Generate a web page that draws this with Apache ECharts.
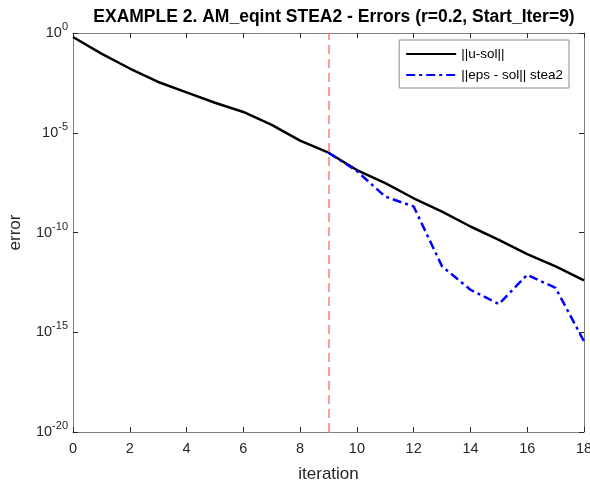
<!DOCTYPE html>
<html>
<head>
<meta charset="utf-8">
<script src="https://cdn.jsdelivr.net/npm/echarts@6/dist/echarts.min.js"></script>
<style>html,body{margin:0;padding:0;background:#fff;}#c{width:590px;height:485px;}</style>
</head>
<body>
<div id="c"></div>
<script>
var iterations = [0,1,2,3,4,5,6,7,8,9,10,11,12,13,14,15,16,17,18];
var uSol = [0.63,0.093,0.0166,3.5e-3,1.05e-3,3.2e-4,1.1e-4,2.5e-5,4.0e-6,1.0e-6,1.35e-7,2.95e-8,5.2e-9,1.1e-9,2.0e-10,4.3e-11,8.3e-12,2.0e-12,4.0e-13];
var steaIter = [9,10,11,12,13,14,15,16,17,18];
var epsSol = [1.0e-6,1.2e-7,6.3e-9,2.0e-9,2.0e-12,1.35e-13,2.6e-14,7.6e-13,1.66e-13,3.5e-16];
var startIter = 9;
var titleText = 'EXAMPLE 2. AM_eqint STEA2 - Errors (r=0.2, Start_Iter=9)';
var seriesNames = ['||u-sol||', '||eps - sol|| stea2'];

var font = 'Liberation Sans, Arial, Helvetica, sans-serif';
var axisCol = '#262626';
var chart = echarts.init(document.getElementById('c'));
function supFmt(v){
  var e = Math.round(Math.log10(v));
  return '10{sup|' + e + '}';
}
var supRich = {sup:{fontSize:11, verticalAlign:'top', padding:[0,0,12,0], color:axisCol, fontFamily:font}};
chart.setOption({
  animation:false,
  backgroundColor:'#fff',
  title:{text:titleText, left:329, textAlign:'center', top:3,
    textStyle:{fontSize:17.5, fontWeight:'bold', color:'#000', fontFamily:font}},
  grid:{left:73, right:6, top:33, bottom:53, containLabel:false, outerBoundsMode:'none'},
  legend:{
    data:seriesNames, orient:'vertical', right:21, top:40,
    itemWidth:50, itemHeight:10, itemGap:7,
    padding:[7,6,6,6],
    itemStyle:{opacity:0},
    borderColor:'#8c8c8c', borderWidth:1, backgroundColor:'#fff',
    textStyle:{fontSize:13.5, color:'#000', fontFamily:font}
  },
  xAxis:[{
    type:'value', min:0, max:18, interval:2, position:'bottom',
    name:'iteration', nameLocation:'middle', nameGap:34,
    nameTextStyle:{fontSize:17, color:axisCol, fontFamily:font},
    axisLine:{onZero:false, lineStyle:{color:'#808080', width:1}},
    axisTick:{inside:true, length:5, lineStyle:{color:axisCol}},
    axisLabel:{fontSize:14.5, color:axisCol, fontFamily:font, margin:9},
    splitLine:{show:false}
  },{
    type:'value', min:0, max:18, interval:2, position:'top',
    axisLine:{onZero:false, lineStyle:{color:'#808080', width:1}},
    axisTick:{inside:true, length:5, lineStyle:{color:axisCol}},
    axisLabel:{show:false}, splitLine:{show:false}
  }],
  yAxis:[{
    type:'log', logBase:10, min:1e-20, max:1, interval:5, position:'left',
    name:'error', nameLocation:'middle', nameGap:49, nameRotate:90,
    nameTextStyle:{fontSize:17, color:axisCol, fontFamily:font},
    axisLine:{show:true, onZero:false, lineStyle:{color:'#808080', width:1}},
    axisTick:{show:true, inside:true, length:5, lineStyle:{color:axisCol}},
    minorTick:{show:false},
    axisLabel:{fontSize:14.5, color:axisCol, fontFamily:font, formatter:supFmt, rich:supRich, margin:5},
    splitLine:{show:false}
  },{
    type:'log', logBase:10, min:1e-20, max:1, interval:5, position:'right',
    axisLine:{show:true, onZero:false, lineStyle:{color:'#808080', width:1}},
    axisTick:{show:true, inside:true, length:5, lineStyle:{color:axisCol}},
    axisLabel:{show:false}, splitLine:{show:false}
  }],
  series:[{
    name:seriesNames[0], type:'line', xAxisIndex:0, yAxisIndex:0,
    data:iterations.map(function(x,i){return [x,uSol[i]];}),
    showSymbol:false, symbol:'none',
    lineStyle:{color:'#000', width:2.5},
    itemStyle:{color:'#000'},
    markLine:{
      silent:true, symbol:'none', label:{show:false},
      lineStyle:{color:'#ff7a7a', width:1.5, type:[9,5]},
      data:[{xAxis:startIter}]
    },
    z:2
  },{
    name:seriesNames[1], type:'line', xAxisIndex:0, yAxisIndex:0,
    data:steaIter.map(function(x,i){return [x,epsSol[i]];}),
    showSymbol:false, symbol:'none',
    lineStyle:{color:'#0000ff', width:2.5, type:[9,4,3,4]},
    itemStyle:{color:'#0000ff'},
    z:3
  }]
});
</script>
</body>
</html>
